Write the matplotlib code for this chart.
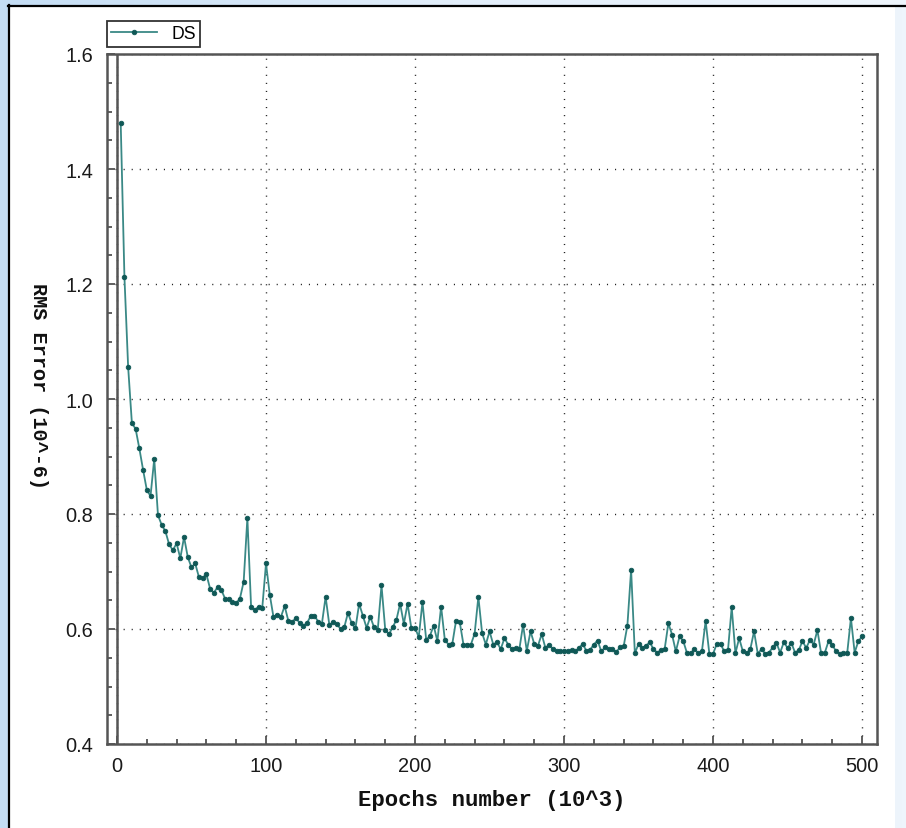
import numpy as np
import matplotlib
matplotlib.use("Agg")
import matplotlib.pyplot as plt
from matplotlib.patches import Rectangle
from matplotlib.lines import Line2D
from matplotlib.ticker import MultipleLocator

# Training log: RMS error sampled every 2.5 thousand epochs
epochs = np.arange(1, 201) * 2.5
rms_error = [
    1.480, 1.212, 1.055, 0.958, 0.948, 0.914, 0.877, 0.842, 0.831, 0.896,
    0.798, 0.781, 0.770, 0.747, 0.737, 0.749, 0.723, 0.760, 0.725, 0.707,
    0.714, 0.690, 0.689, 0.695, 0.670, 0.663, 0.673, 0.668, 0.653, 0.652,
    0.647, 0.645, 0.653, 0.682, 0.793, 0.638, 0.633, 0.639, 0.637, 0.714,
    0.660, 0.621, 0.625, 0.621, 0.640, 0.614, 0.612, 0.619, 0.611, 0.606,
    0.610, 0.623, 0.623, 0.613, 0.609, 0.656, 0.607, 0.612, 0.609, 0.600,
    0.603, 0.628, 0.610, 0.601, 0.644, 0.623, 0.602, 0.621, 0.603, 0.599,
    0.676, 0.599, 0.591, 0.603, 0.616, 0.644, 0.609, 0.644, 0.602, 0.602,
    0.586, 0.647, 0.581, 0.588, 0.606, 0.579, 0.639, 0.581, 0.573, 0.574,
    0.614, 0.612, 0.573, 0.573, 0.573, 0.592, 0.656, 0.593, 0.573, 0.596,
    0.573, 0.577, 0.565, 0.584, 0.573, 0.565, 0.567, 0.565, 0.607, 0.562,
    0.596, 0.574, 0.571, 0.591, 0.567, 0.573, 0.565, 0.562, 0.561, 0.561,
    0.562, 0.563, 0.561, 0.567, 0.574, 0.562, 0.564, 0.573, 0.580, 0.561,
    0.568, 0.565, 0.565, 0.560, 0.568, 0.570, 0.606, 0.703, 0.558, 0.574,
    0.567, 0.571, 0.577, 0.565, 0.559, 0.563, 0.565, 0.610, 0.590, 0.561,
    0.587, 0.579, 0.558, 0.558, 0.565, 0.558, 0.561, 0.614, 0.557, 0.557,
    0.574, 0.574, 0.561, 0.563, 0.638, 0.558, 0.584, 0.561, 0.558, 0.565,
    0.596, 0.557, 0.565, 0.557, 0.559, 0.568, 0.576, 0.559, 0.577, 0.567,
    0.576, 0.559, 0.563, 0.579, 0.567, 0.581, 0.573, 0.598, 0.558, 0.559,
    0.579, 0.573, 0.561, 0.557, 0.558, 0.558, 0.619, 0.559, 0.579, 0.587,
]
series_name = "DS"
x_label = "Epochs number (10^3)"
y_label = "RMS Error (10^-6)"
x_ticks = [0, 100, 200, 300, 400, 500]
y_ticks = [0.4, 0.6, 0.8, 1.0, 1.2, 1.4, 1.6]

W, H = 906, 829
fig = plt.figure(figsize=(W / 100, H / 100), dpi=100)

# Page background: soft blue gradient with a white framed panel
bg = fig.add_axes([0, 0, 1, 1], zorder=-10)
bg.set_axis_off()
grad = np.linspace(0, 1, 256)[None, :]
bg.imshow(grad, aspect="auto", extent=[0, W, 0, H],
          cmap=matplotlib.colors.LinearSegmentedColormap.from_list(
              "pagebg", ["#c4ddf4", "#e2eefa", "#eef5fc"]))
bg.set_xlim(0, W)
bg.set_ylim(H, 0)
bg.add_patch(Rectangle((8, 6), 887, H, facecolor="white", edgecolor="none"))
bg.add_line(Line2D([8, W], [6.5, 6.5], color="black", lw=1.6))
bg.add_line(Line2D([8.5, 8.5], [6, H], color="black", lw=1.6))

ax = fig.add_axes([107 / W, 1 - 745 / H, (877 - 107) / W, (745 - 55) / H])
ax.set_facecolor("white")

ax.plot(epochs, rms_error, color="#3a8986", lw=1.3, marker="o", ms=3.3,
        mfc="#0f5856", mec="#0f5856", mew=0.6, label=series_name, zorder=3)
ax.axvline(0, color="#555555", lw=1.8, zorder=2)

ax.set_xlim(-6.7, 510)
ax.set_ylim(0.4, 1.6)
ax.set_xticks(x_ticks)
ax.set_yticks(y_ticks)
ax.set_yticklabels([f"{v:.1f}" for v in y_ticks])
ax.xaxis.set_minor_locator(MultipleLocator(20))
ax.yaxis.set_minor_locator(MultipleLocator(0.05))

ax.grid(True, which="major", color="#222222", lw=1.0, linestyle=(0, (0.8, 5.0)))
ax.set_axisbelow(True)

for sp in ax.spines.values():
    sp.set_color("#555555")
    sp.set_linewidth(1.8)

tick_font = dict(family="Liberation Sans", size=14.4)
ax.tick_params(which="both", direction="in", top=False, right=False,
               color="#444444", width=1.2)
ax.tick_params(which="major", length=6, labelcolor="#1a1a1a")
ax.tick_params(which="minor", length=3.5)
ax.tick_params(axis="y", which="major", pad=10)
ax.tick_params(axis="x", which="major", pad=9)
for lbl in ax.get_xticklabels() + ax.get_yticklabels():
    lbl.set_fontfamily("Liberation Sans")
    lbl.set_fontsize(14.4)

ax.set_xlabel(x_label, family="Liberation Mono", weight="bold", fontsize=16,
              color="#111111")
ax.xaxis.set_label_coords(0.5, -0.081)
ax.xaxis.label.set_va("center")

ax.set_ylabel(y_label, family="Liberation Mono", weight="bold", fontsize=14.6,
              color="#111111", rotation=-90)
ax.yaxis.set_label_coords((38.5 - 107) / 770, (745 - 386) / 690)
ax.yaxis.label.set_va("center")
ax.yaxis.label.set_ha("center")

leg = fig.legend(loc="upper left", bbox_to_anchor=(107 / W, 1 - 22 / H),
                 borderaxespad=0, fancybox=False, framealpha=1,
                 edgecolor="#333333", prop=dict(family="Liberation Sans", size=12.7),
                 handlelength=2.6, handletextpad=0.8, borderpad=0.25)
leg.get_frame().set_linewidth(1.3)

fig.savefig("out.png", dpi=100)
